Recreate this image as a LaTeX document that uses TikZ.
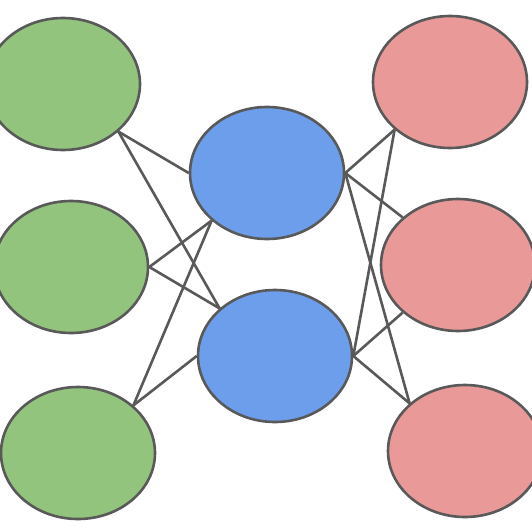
\documentclass[tikz,border=0pt]{standalone}
\usetikzlibrary{shapes.geometric}
\definecolor{gfill}{HTML}{93C47D}
\definecolor{bfill}{HTML}{6D9EEB}
\definecolor{rfill}{HTML}{EA9999}
\definecolor{edge}{HTML}{595959}
\begin{document}
\begin{tikzpicture}[x=1pt,y=-1pt,
  unit/.style={ellipse,draw=edge,line width=2.6pt,minimum width=154pt,minimum height=132pt,inner sep=0pt},
  link/.style={draw=edge,line width=2.6pt}]
\useasboundingbox[fill=white] (0,0) rectangle (532,532);
\begin{scope}
\clip (0,0) rectangle (532,532);
\node[unit,fill=gfill] (g1) at (63,84) {};
\node[unit,fill=gfill] (g2) at (71,267) {};
\node[unit,fill=gfill] (g3) at (78,453) {};
\node[unit,fill=bfill] (b1) at (267,173) {};
\node[unit,fill=bfill] (b2) at (275,356) {};
\node[unit,fill=rfill] (r1) at (450,82) {};
\node[unit,fill=rfill] (r2) at (458,265) {};
\node[unit,fill=rfill] (r3) at (465,451) {};
\draw[link] (g1.south east) -- (b1.west);
\draw[link] (g1.south east) -- (b2.north west);
\draw[link] (g2.east) -- (b1.south west);
\draw[link] (g2.east) -- (b2.north west);
\draw[link] (g3.north east) -- (b1.south west);
\draw[link] (g3.north east) -- (b2.west);
\draw[link] (b1.east) -- (r1.south west);
\draw[link] (b1.east) -- (r2.north west);
\draw[link] (b1.east) -- (r3.north west);
\draw[link] (b2.east) -- (r1.south west);
\draw[link] (b2.east) -- (r2.south west);
\draw[link] (b2.east) -- (r3.north west);
\end{scope}
\end{tikzpicture}
\end{document}
